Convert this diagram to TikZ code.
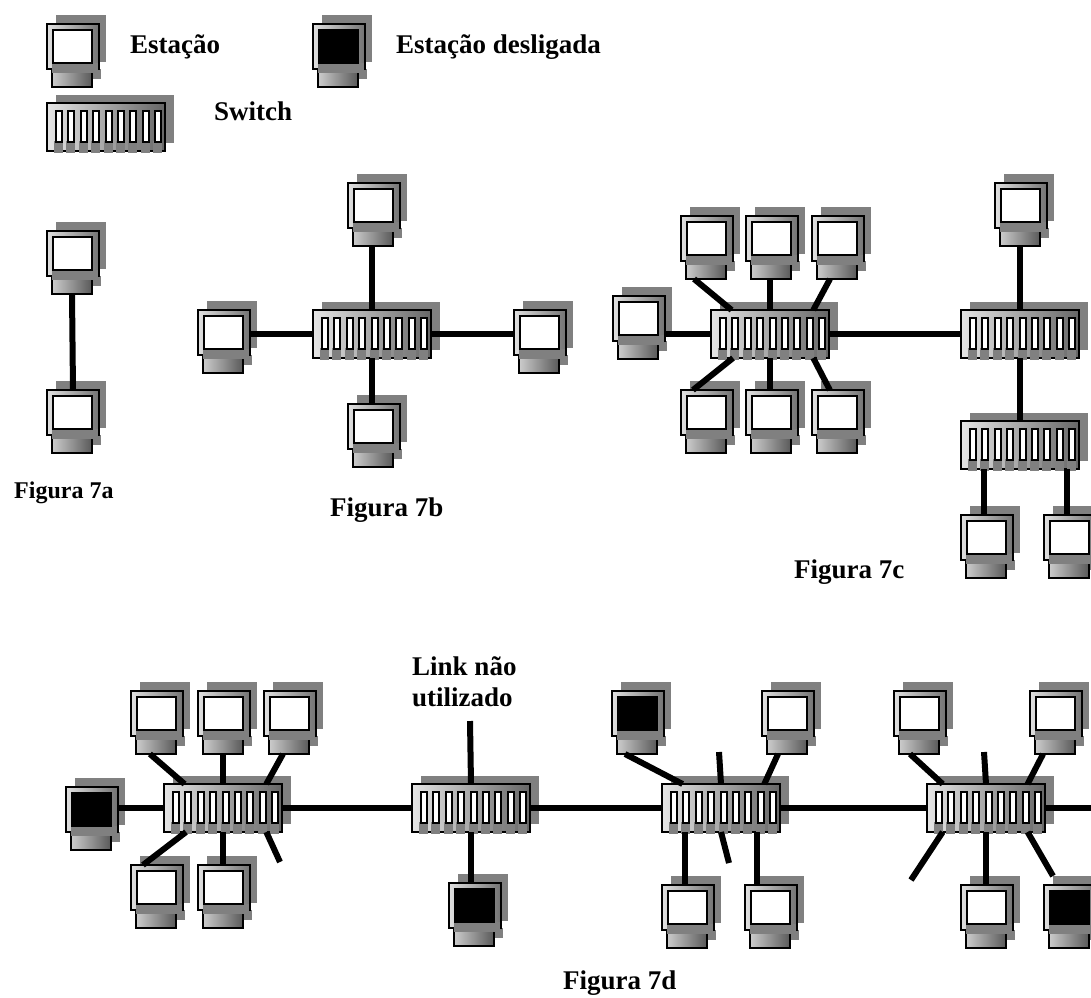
\documentclass[tikz,border=0pt]{standalone}
\usepackage{fontspec}
\setmainfont{Liberation Serif}
\usepackage{tikz}
\usetikzlibrary{positioning, calc}
\definecolor{sombra}{RGB}{128, 128, 128}
\tikzset{
  sombrabox/.style={fill=sombra, inner sep=0pt, outer sep=0pt},
  cabo/.style={line width=6pt, black},
  rotulo/.style={font=\fontsize{27}{31}\selectfont\bfseries, anchor=west, inner sep=0pt, align=left},
  pics/estacao/.style={code={
    \node[sombrabox, minimum width=50pt, minimum height=47pt] (-sh) at (34,14.5) {};
    \fill[sombra] (8,45) rectangle (54,55);
    \node[draw=black, line width=2pt, left color=black!20, right color=black!65, inner sep=0pt, outer sep=0pt,
          minimum width=40pt, minimum height=18pt] (-base) at (25,54) {};
    \node[draw=black, line width=2pt, left color=black!12, right color=black!55, inner sep=0pt, outer sep=0pt,
          minimum width=52pt, minimum height=45pt] (-mon) at (26,22.5) {};
    \fill[sombra] (5,39) rectangle (51,49);
    \node[draw=black, line width=2pt, fill=#1, inner sep=0pt,
          minimum width=39pt, minimum height=33pt] (-tela) at (25.5,22.5) {};
  }},
  pics/comutador/.style={code={
    \node[sombrabox, minimum width=118pt, minimum height=48pt] (-sh) at (68,16) {};
    \node[draw=black, line width=2pt, left color=black!10, right color=black!60, inner sep=0pt, outer sep=0pt,
          minimum width=118pt, minimum height=48pt] (-box) at (59,24) {};
    \foreach \i in {0,...,8} {
      \fill[sombra] (7+12.4*\i,38) rectangle (16+12.4*\i,50);
      \draw[black, line width=2pt, fill=white] (9+12.4*\i,8) rectangle (15+12.4*\i,39);
    }
  }},
}
\begin{document}
\begin{tikzpicture}[x=1pt, y=-1pt]
  \useasboundingbox (0,0) rectangle (1091,997);

  % LEGENDA
  \pic (legA) at (47,24) {estacao=white};
  \pic (legB) at (313,24) {estacao=black};
  \pic (legS) at (47,103) {comutador};
  \node[rotulo] (txtA) at (130,47) {Estação};
  \node[rotulo] (txtB) at (396,47) {Estação desligada};
  \node[rotulo] (txtS) at (214,111) {Switch};

  % FIGURA 7a
  \pic (aT) at (47,231) {estacao=white};
  \pic (aB) at (47,390) {estacao=white};
  \draw[cabo] (aT-base.south) -- (aB-mon.north);
  \node[rotulo, font=\fontsize{24}{28}\selectfont\bfseries] (txt7a) at (14,493) {Figura 7a};

  % FIGURA 7b
  \pic (bS) at (313,310) {comutador};
  \pic (bN) at (348,183) {estacao=white};
  \pic (bW) at (198,310) {estacao=white};
  \pic (bE) at (514,310) {estacao=white};
  \pic (bD) at (348,404) {estacao=white};
  \draw[cabo] (bS-box.north) -- (bS-box.north |- bN-base.south);
  \draw[cabo] (bS-box.south) -- (bS-box.south |- bD-mon.north);
  \draw[cabo] (bS-box.west) -- (bS-box.west -| bW-mon.east);
  \draw[cabo] (bS-box.east) -- (bS-box.east -| bE-mon.west);
  \node[rotulo] (txt7b) at (330,510) {Figura 7b};

  % FIGURA 7c
  \pic (cS) at (711,310) {comutador};
  \pic (cR) at (961,310) {comutador};
  \pic (cL) at (961,421) {comutador};
  \pic (cW) at (613,296) {estacao=white};
  \pic (cN1) at (681,216) {estacao=white};
  \pic (cN2) at (746,216) {estacao=white};
  \pic (cN3) at (812,216) {estacao=white};
  \pic (cD1) at (681,390) {estacao=white};
  \pic (cD2) at (746,390) {estacao=white};
  \pic (cD3) at (812,390) {estacao=white};
  \pic (cT) at (995,183) {estacao=white};
  \pic (cB1) at (961,515) {estacao=white};
  \pic (cB2) at (1044,515) {estacao=white};
  \draw[cabo] (cS-box.west) -- (cS-box.west -| cW-mon.east);
  \draw[cabo] (cS-box.148) -- (cN1-base.217);
  \draw[cabo] (cS-box.north) -- (cS-box.north |- cN2-base.south);
  \draw[cabo] (cS-box.29) -- (cN3-base.232);
  \draw[cabo] (cS-box.213) -- (cD1-mon.122);
  \draw[cabo] (cS-box.south) -- (cS-box.south |- cD2-mon.north);
  \draw[cabo] (cS-box.-29) -- (cD3-mon.110);
  \draw[cabo] (cS-box.east) -- (cR-box.west);
  \draw[cabo] (cR-box.north) -- (cR-box.north |- cT-base.south);
  \draw[cabo] (cR-box.south) -- (cL-box.north);
  \draw[cabo] (cL-box.214) -- (cL-box.214 |- cB1-mon.north);
  \draw[cabo] (cL-box.-27) -- (cL-box.-27 |- cB2-mon.north);
  \node[rotulo] (txt7c) at (794,572) {Figura 7c};

  % FIGURA 7d
  \pic (d1) at (164,784) {comutador};
  \pic (d2) at (412,784) {comutador};
  \pic (d3) at (662,784) {comutador};
  \pic (d4) at (927,784) {comutador};
  \pic (e1) at (131,691) {estacao=white};
  \pic (e2) at (198,691) {estacao=white};
  \pic (e3) at (264,691) {estacao=white};
  \pic (e4) at (66,787) {estacao=black};
  \pic (e5) at (131,865) {estacao=white};
  \pic (e6) at (198,865) {estacao=white};
  \pic (e7) at (449,883) {estacao=black};
  \pic (e8) at (612,691) {estacao=black};
  \pic (e9) at (762,691) {estacao=white};
  \pic (e10) at (662,885) {estacao=white};
  \pic (e11) at (745,885) {estacao=white};
  \pic (e12) at (894,691) {estacao=white};
  \pic (e13) at (1030,691) {estacao=white};
  \pic (e14) at (961,885) {estacao=white};
  \pic (e15) at (1044,885) {estacao=black};
  \coordinate (solto1) at (280,862);
  \coordinate (solto2) at (470,721);
  \coordinate (solto3) at (719,752);
  \coordinate (solto4) at (729,863);
  \coordinate (solto5) at (984,752);
  \coordinate (solto6) at (911,880);
  \coordinate (solto7) at (1091,808);
  \draw[cabo] (d1-box.148) -- (e1-base.236);
  \draw[cabo] (d1-box.north) -- (d1-box.north |- e2-base.south);
  \draw[cabo] (d1-box.29) -- (e3-base.236);
  \draw[cabo] (d1-box.west) -- (d1-box.west -| e4-mon.east);
  \draw[cabo] (d1-box.213) -- (e5-mon.122);
  \draw[cabo] (d1-box.south) -- (d1-box.south |- e6-mon.north);
  \draw[cabo] (d1-box.-29) -- (solto1);
  \draw[cabo] (d1-box.east) -- (d2-box.west);
  \draw[cabo] (d2-box.north) -- (solto2);
  \draw[cabo] (d2-box.south) -- (d2-box.south |- e7-mon.north);
  \draw[cabo] (d2-box.east) -- (d3-box.west);
  \draw[cabo] (d3-box.148) -- (e8-base.217);
  \draw[cabo] (d3-box.north) -- (solto3);
  \draw[cabo] (d3-box.29) -- (e9-base.225);
  \draw[cabo] (d3-box.214) -- (d3-box.214 |- e10-mon.north);
  \draw[cabo] (d3-box.south) -- (solto4);
  \draw[cabo] (d3-box.-34) -- (d3-box.-34 |- e11-mon.north);
  \draw[cabo] (d3-box.east) -- (d4-box.west);
  \draw[cabo] (d4-box.151) -- (e12-base.225);
  \draw[cabo] (d4-box.north) -- (solto5);
  \draw[cabo] (d4-box.30) -- (e13-base.217);
  \draw[cabo] (d4-box.209) -- (solto6);
  \draw[cabo] (d4-box.south) -- (d4-box.south |- e14-mon.north);
  \draw[cabo] (d4-box.-30) -- (e15-sh.north west);
  \draw[cabo] (d4-box.east) -- (solto7);
  \node[rotulo] (txtLink) at (412,682) {Link não\\utilizado};
  \node[rotulo] (txt7d) at (563,983) {Figura 7d};
\end{tikzpicture}
\end{document}
